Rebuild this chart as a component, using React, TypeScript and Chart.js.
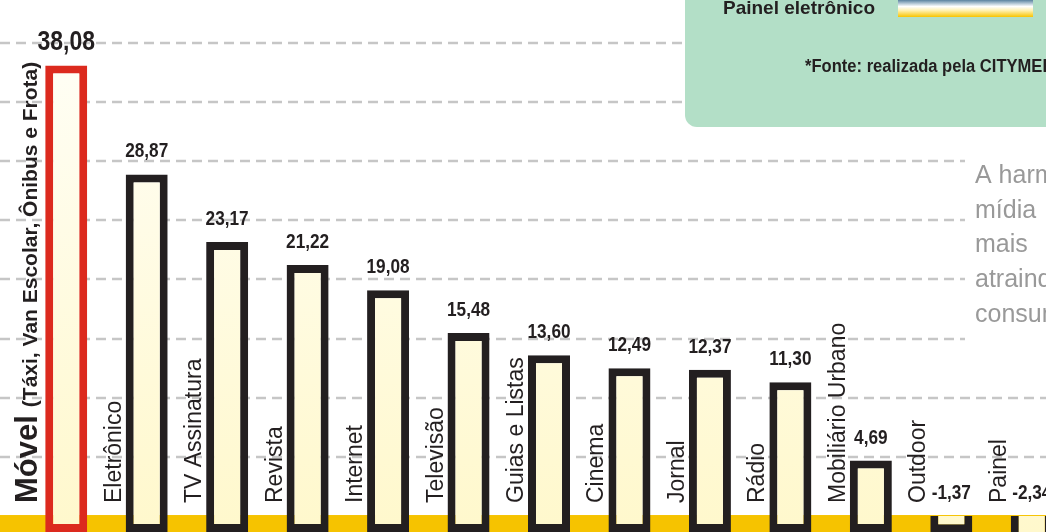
import React, { useEffect, useRef } from "react";
import { Chart, registerables } from "chart.js";

Chart.register(...registerables);

// ---- data ----
const categories = [
  "Móvel",
  "Eletrônico",
  "TV Assinatura",
  "Revista",
  "Internet",
  "Televisão",
  "Guias e Listas",
  "Cinema",
  "Jornal",
  "Rádio",
  "Mobiliário Urbano",
  "Outdoor",
  "Painel",
];
const categoryNotes = [
  "(Táxi, Van Escolar, Ônibus e Frota)",
  "", "", "", "", "", "", "", "", "", "", "", "",
];
const values = [38.08, 28.87, 23.17, 21.22, 19.08, 15.48, 13.6, 12.49, 12.37, 11.3, 4.69, -1.37, -2.34];
const gridTicks = [5, 10, 15, 20, 25, 30, 35, 40];
const highlightIndex = 0;
const legendLabel = "Painel eletrônico";
const sourceNote = "*Fonte: realizada pela CITYMEDIA";
const sideText = ["A harmonia", "mídia", "mais", "atraindo", "consumidores"];

const Y_MIN = -1.35;
const Y_MAX = 43.62;
const FONT = '"Liberation Sans", Arial, Helvetica, sans-serif';
const INK = "#231f20";

const positiveValues = values.map((v) => (v >= 0 ? v : null));
const negativeValues = values.map((v) => (v < 0 ? v : null));
const fmt = (v: number) => v.toFixed(2).replace(".", ",");

const decorPlugin = {
  id: "decor",
  beforeDatasetsDraw(chart: any) {
    const { ctx, width } = chart;
    const yScale = chart.scales.y;
    const zeroPx = yScale.getPixelForValue(0);
    ctx.save();
    // yellow base band
    ctx.fillStyle = "#f6c300";
    ctx.fillRect(0, zeroPx - 1, width, chart.height - zeroPx + 1);
    // dashed grid
    ctx.strokeStyle = "#c6c6c6";
    ctx.lineWidth = 2.6;
    ctx.setLineDash([10, 6]);
    gridTicks.forEach((t) => {
      const y = Math.round(yScale.getPixelForValue(t));
      ctx.beginPath();
      ctx.moveTo(0, y);
      ctx.lineTo(width, y);
      ctx.stroke();
    });
    ctx.setLineDash([]);
    // side text block
    ctx.fillStyle = "#ffffff";
    ctx.fillRect(965, 140, width - 965, 212);
    ctx.fillStyle = "#999999";
    ctx.font = `25px ${FONT}`;
    ctx.textAlign = "left";
    ctx.textBaseline = "alphabetic";
    sideText.forEach((line, i) => {
      ctx.fillText(line, 975, 183 + i * 34.7);
    });
    ctx.restore();
  },
  afterDatasetsDraw(chart: any) {
    const { ctx } = chart;
    const yScale = chart.scales.y;
    const zeroPx = yScale.getPixelForValue(0);
    ctx.save();
    ctx.fillStyle = INK;
    ctx.textBaseline = "alphabetic";
    values.forEach((v, i) => {
      const el = chart.getDatasetMeta(v >= 0 ? 0 : 1).data[i];
      if (!el) return;
      const x = el.x;
      const top = Math.min(el.y, el.base, zeroPx);
      // value label
      const big = i === highlightIndex;
      ctx.save();
      ctx.translate(x, top - (big ? 16 : 17));
      ctx.scale(0.82, 1);
      ctx.font = `bold ${big ? 28 : 21}px ${FONT}`;
      ctx.textAlign = "center";
      ctx.fillText(fmt(v), 0, 0);
      ctx.restore();
      // category label (rotated)
      ctx.save();
      ctx.translate(x - (big ? 29 : 26), 503);
      ctx.rotate(-Math.PI / 2);
      ctx.textAlign = "left";
      if (categoryNotes[i]) {
        ctx.font = `bold 31px ${FONT}`;
        ctx.fillText(categories[i], 0, 0);
        const w = ctx.measureText(categories[i]).width;
        ctx.font = `bold 21px ${FONT}`;
        ctx.fillText(categoryNotes[i], w + 8, 0);
      } else {
        ctx.font = `23px ${FONT}`;
        ctx.fillText(categories[i], 0, 0);
      }
      ctx.restore();
    });
    ctx.restore();
  },
  afterDraw(chart: any) {
    const { ctx, width } = chart;
    ctx.save();
    // legend / source box
    const left = 685, bottom = 127, r = 12;
    ctx.fillStyle = "#b3dfc7";
    ctx.beginPath();
    ctx.moveTo(left, 0);
    ctx.lineTo(left, bottom - r);
    ctx.arcTo(left, bottom, left + r, bottom, r);
    ctx.lineTo(width, bottom);
    ctx.lineTo(width, 0);
    ctx.closePath();
    ctx.fill();
    ctx.fillStyle = INK;
    ctx.textAlign = "left";
    ctx.textBaseline = "alphabetic";
    ctx.font = `bold 19px ${FONT}`;
    ctx.fillText(legendLabel, 723, 14);
    const g = ctx.createLinearGradient(0, 0, 0, 17);
    g.addColorStop(0, "#5b829f");
    g.addColorStop(0.18, "#a9bfcf");
    g.addColorStop(0.38, "#ffffff");
    g.addColorStop(0.62, "#fff0b0");
    g.addColorStop(1, "#f8c400");
    ctx.fillStyle = g;
    ctx.fillRect(898, 0, 135, 17);
    ctx.fillStyle = INK;
    ctx.save();
    ctx.translate(805, 72);
    ctx.scale(0.92, 1);
    ctx.font = `bold 18px ${FONT}`;
    ctx.fillText(sourceNote, 0, 0);
    ctx.restore();
    ctx.restore();
  },
};

export default function App() {
  const canvasRef = useRef<HTMLCanvasElement | null>(null);

  useEffect(() => {
    if (!canvasRef.current) return;
    const fill = (c: any) => {
      const area = c.chart.chartArea;
      if (!area) return "#fffbe0";
      const g = c.chart.ctx.createLinearGradient(0, area.top, 0, area.bottom);
      g.addColorStop(0, "#fffffa");
      g.addColorStop(1, "#fff8cc");
      return g;
    };
    const border = (c: any) => (c.dataIndex === highlightIndex ? "#dc2a1e" : INK);
    const chart = new Chart(canvasRef.current, {
      type: "bar",
      data: {
        labels: categories,
        datasets: [
          {
            data: positiveValues as any,
            base: Y_MIN,
            backgroundColor: fill,
            borderColor: border,
            borderWidth: 8,
            borderSkipped: false,
            grouped: false,
            barPercentage: 0.522,
            categoryPercentage: 1,
          } as any,
          {
            data: negativeValues as any,
            base: 0,
            backgroundColor: fill,
            borderColor: border,
            borderWidth: 8,
            borderSkipped: "start",
            grouped: false,
            barPercentage: 0.522,
            categoryPercentage: 1,
          } as any,
        ],
      },
      options: {
        animation: false,
        responsive: false,
        maintainAspectRatio: false,
        devicePixelRatio: 1,
        layout: { padding: { left: 26, right: 0, top: 0, bottom: 0 } },
        scales: {
          x: { display: false, offset: true },
          y: { display: false, min: Y_MIN, max: Y_MAX },
        },
        plugins: {
          legend: { display: false },
          tooltip: { enabled: false },
        },
      },
      plugins: [decorPlugin],
    });
    return () => chart.destroy();
  }, []);

  return (
    <div
      style={{
        position: "fixed",
        left: 0,
        top: 0,
        width: 1046,
        height: 532,
        overflow: "hidden",
        background: "#ffffff",
      }}
    >
      <canvas ref={canvasRef} width={1072} height={532} style={{ display: "block" }} />
    </div>
  );
}
